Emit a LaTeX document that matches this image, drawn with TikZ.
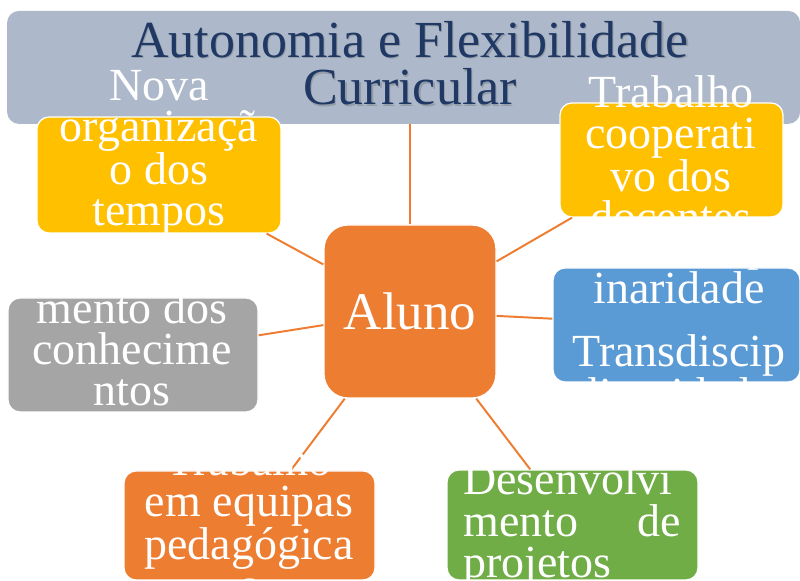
\documentclass[tikz,border=0pt]{standalone}
\usepackage{fontspec}
\setmainfont{Liberation Serif}
\definecolor{cBanda}{HTML}{ADB9CA}
\definecolor{cTitulo}{HTML}{203864}
\definecolor{cAmarelo}{HTML}{FFC000}
\definecolor{cAzul}{HTML}{5B9BD5}
\definecolor{cCinza}{HTML}{A5A5A5}
\definecolor{cLaranja}{HTML}{ED7D31}
\definecolor{cVerde}{HTML}{70AD47}
\tikzset{
    banda/.style={fill=cBanda, rounded corners=0.3cm, inner sep=0pt},
    titulo/.style={anchor=base, align=center, inner sep=0pt, text=cTitulo,
                   font=\fontsize{37}{34.1}\selectfont},
    caixa/.style={draw=white, line width=0.9pt, rounded corners=0.3cm,
                  minimum height=2.85cm, inner sep=0pt},
    texto/.style={anchor=base, align=center, inner sep=0pt, text=white,
                  font=\fontsize{32.7}{29.2}\selectfont},
    ligacao/.style={draw=cLaranja, line width=1.4pt},
}
\begin{document}
\begin{tikzpicture}[x=1cm, y=1cm]
\useasboundingbox (0,0) rectangle (20,14.525);

% faixa do titulo
\node[banda, minimum width=19.825cm, minimum height=2.825cm] (banner) at (10.09,12.84) {};
\node[titulo, text=black!60, opacity=0.35] (sombra) at (10.28,11.87) {Autonomia e Flexibilidade\\Curricular};
\node[titulo] (titulo) at (10.25,11.9) {Autonomia e Flexibilidade\\Curricular};

% caixas
\node[caixa, fill=cAmarelo, minimum width=6.1cm, minimum height=2.9cm] (nova) at (3.975,10.15) {};
\node[caixa, fill=cAmarelo, minimum width=5.575cm] (coop) at (16.7875,10.525) {};
\node[caixa, fill=cAzul, minimum width=6.175cm] (trans) at (16.9125,6.4) {};
\node[caixa, fill=cCinza, minimum width=6.25cm] (aprof) at (3.325,5.65) {};
\node[caixa, fill=cLaranja, minimum width=6.275cm, minimum height=2.725cm] (equipas) at (6.2375,1.3875) {};
\node[caixa, fill=cVerde, minimum width=6.275cm, minimum height=2.75cm] (projetos) at (14.3125,1.4) {};
\node[caixa, fill=cLaranja, minimum width=4.3cm, minimum height=4.325cm, rounded corners=0.6cm,
      text=white, font=\fontsize{37.7}{40}\selectfont] (aluno) at (10.25,6.7375) {Aluno};

% ligacoes
\draw[ligacao] (aluno.north) -- (aluno.north |- banner.south);
\foreach \cx in {nova,coop,trans,aprof,equipas,projetos}
    \draw[ligacao] (aluno) -- (\cx);

% textos
\node[texto] (tNova) at (3.975,8.885) {Nova\\organizaçã\\o dos\\tempos};
\node[texto] (tCoop) at (16.775,8.71) {Trabalho\\cooperati\\vo dos\\docentes};
\node[texto] (tTrans) at (16.975,4.285) {Interdiscipl\\inaridade\\[15.6pt]Transdiscip\\linaridade};
\node[texto] (tAprof) at (3.3,4.385) {Aprofunda\\mento dos\\conhecime\\ntos};
\node[texto] (tEquipas) at (6.225,-0.5) {Trabalho\\em equipas\\pedagógica\\s};
\node[texto, anchor=base west, align=left, text width=5.45cm] (tProjetos) at (11.575,2.15)
     {Desenvolvi\\mento\hfill de\\projetos};

\end{tikzpicture}
\end{document}
